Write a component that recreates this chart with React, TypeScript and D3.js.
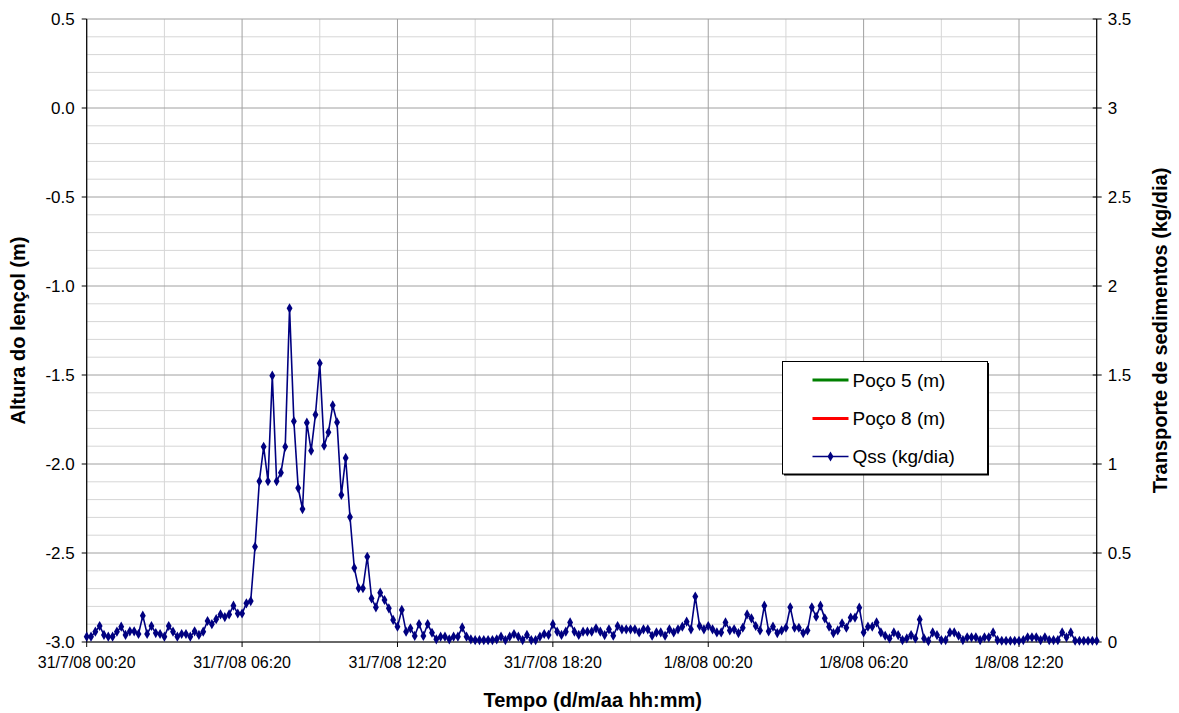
import React from "react";
import * as d3 from "d3";

// ---- Data ----
const startTime = new Date(2008, 6, 31, 0, 20);
const endTime = new Date(2008, 7, 1, 15, 20);
const stepMinutes = 10;

const leftTicks = [-3.0, -2.5, -2.0, -1.5, -1.0, -0.5, 0.0, 0.5];
const rightTicks = [0, 0.5, 1, 1.5, 2, 2.5, 3, 3.5];

const legendLabels = ["Poço 5 (m)", "Poço 8 (m)", "Qss (kg/dia)"];
const legendColors = ["#008000", "#ff0000", "#000080"];

// Qss (kg/dia), one reading every 10 minutes from 31/7/08 00:20
const qss: number[] = [
  0.03, 0.03, 0.058, 0.09, 0.04, 0.03, 0.03, 0.058, 0.086, 0.04,
  0.06, 0.06, 0.045, 0.148, 0.045, 0.09, 0.05, 0.045, 0.03, 0.09,
  0.058, 0.03, 0.045, 0.045, 0.03, 0.06, 0.04, 0.058, 0.118, 0.1,
  0.128, 0.155, 0.14, 0.155, 0.204, 0.16, 0.16, 0.217, 0.23,
  0.535, 0.903, 1.097, 0.903, 1.496, 0.903, 0.951, 1.097, 1.875, 1.24,
  0.865, 0.747, 1.232, 1.075, 1.277, 1.566, 1.103, 1.178, 1.33, 1.234,
  0.826, 1.034, 0.702, 0.416, 0.302, 0.302, 0.479, 0.245, 0.195, 0.277,
  0.236, 0.189, 0.124, 0.086,
  0.18, 0.058, 0.077, 0.034, 0.101, 0.034, 0.101, 0.052, 0.015, 0.03,
  0.03, 0.015, 0.03, 0.03, 0.082, 0.03, 0.015, 0.011, 0.011, 0.011,
  0.011, 0.011, 0.015, 0.03, 0.011, 0.03, 0.045, 0.03, 0.011, 0.04,
  0.011, 0.011, 0.03, 0.045, 0.04, 0.1, 0.058, 0.04, 0.058, 0.11,
  0.058, 0.04, 0.058,
  0.058, 0.058, 0.077, 0.058, 0.039, 0.071, 0.035, 0.09, 0.071, 0.071,
  0.071, 0.071, 0.054, 0.071, 0.071, 0.035, 0.054, 0.054, 0.035, 0.071,
  0.054, 0.071, 0.086, 0.114, 0.071, 0.255, 0.09, 0.071, 0.09, 0.071,
  0.054, 0.054, 0.11, 0.065, 0.071, 0.05, 0.08, 0.155, 0.133, 0.09,
  0.065, 0.204, 0.06, 0.086, 0.05, 0.065, 0.08, 0.195, 0.08, 0.08,
  0.05, 0.065, 0.195, 0.142, 0.204, 0.133, 0.086, 0.05, 0.065,
  0.105, 0.08, 0.137, 0.137, 0.193, 0.054, 0.086, 0.086, 0.11, 0.054,
  0.035, 0.02, 0.054, 0.039, 0.011, 0.02, 0.039, 0.02, 0.127, 0.02,
  0.005, 0.054, 0.039, 0.011, 0.011, 0.054, 0.054, 0.035, 0.011, 0.026,
  0.026, 0.026, 0.011, 0.026, 0.026, 0.054, 0.011, 0.007, 0.007, 0.007,
  0.007, 0.007, 0.011, 0.026, 0.026, 0.026, 0.011, 0.026, 0.011, 0.011,
  0.011, 0.054, 0.026, 0.054, 0.007, 0.007, 0.007, 0.007, 0.007, 0.007,
];

// ---- Layout ----
const W = 1179;
const H = 713;
const L = 86.7;
const R = 1096.7;
const T = 19;
const B = 642;
const FONT = "'Liberation Sans', Arial, sans-serif";

export default function App() {
  const x = d3.scaleTime().domain([startTime, endTime]).range([L, R]);
  const yL = d3.scaleLinear().domain([-3, 0.5]).range([B, T]);
  const yR = d3.scaleLinear().domain([0, 3.5]).range([B, T]);

  const points = qss.map((v, i) => ({
    t: d3.timeMinute.offset(startTime, i * stepMinutes),
    v,
  }));

  const line = d3
    .line<{ t: Date; v: number }>()
    .x((d) => x(d.t))
    .y((d) => yR(d.v));

  const minorY = d3
    .range(-30, 6)
    .map((k) => k / 10)
    .filter((v) => Math.abs(v * 2 - Math.round(v * 2)) > 1e-6);
  const majorY = leftTicks;
  const allTimes: Date[] = [];
  for (let h = 0; h <= 39; h += 3) allTimes.push(d3.timeHour.offset(startTime, h));
  const majorTimes = allTimes.filter((_, i) => i % 2 === 0);
  const minorTimes = allTimes.filter((_, i) => i % 2 === 1);

  const fmt = d3.timeFormat("%-d/%-m/%y %H:%M");
  const diamond = d3.symbol().type(d3.symbolDiamond).size(30)()!;

  const legX = 782.5;
  const legY = 361.5;
  const legW = 205;
  const legH = 112.5;
  const legRows = [380, 418.5, 456.5];

  return (
    <svg
      width={W}
      height={H}
      style={{ position: "absolute", left: 0, top: 0, background: "#fff" }}
      fontFamily={FONT}
    >
      <rect x={0} y={0} width={W} height={H} fill="#fff" />
      {/* minor grid */}
      {minorY.map((v) => (
        <line key={"mh" + v} x1={L} x2={R} y1={yL(v)} y2={yL(v)} stroke="#d6d6d6" strokeWidth={1} />
      ))}
      {minorTimes.map((d) => (
        <line key={"mv" + d.getTime()} x1={x(d)} x2={x(d)} y1={T} y2={B} stroke="#d6d6d6" strokeWidth={1} />
      ))}
      {/* major grid */}
      {majorY.map((v) => (
        <line key={"Mh" + v} x1={L} x2={R} y1={yL(v)} y2={yL(v)} stroke="#a0a0a0" strokeWidth={1} />
      ))}
      {majorTimes.map((d) => (
        <line key={"Mv" + d.getTime()} x1={x(d)} x2={x(d)} y1={T} y2={B} stroke="#a0a0a0" strokeWidth={1} />
      ))}
      {/* axes */}
      <line x1={L} x2={L} y1={T} y2={B} stroke="#000" strokeWidth={1.2} />
      <line x1={R} x2={R} y1={T} y2={B} stroke="#000" strokeWidth={1.2} />
      <line x1={L} x2={R} y1={B} y2={B} stroke="#000" strokeWidth={1.2} />
      {/* left ticks */}
      {leftTicks.map((v) => (
        <g key={"lt" + v}>
          <line x1={L - 5} x2={L} y1={yL(v)} y2={yL(v)} stroke="#000" />
          <text x={L - 12} y={yL(v)} dy="0.35em" textAnchor="end" fontSize={17}>
            {v.toFixed(1)}
          </text>
        </g>
      ))}
      {/* right ticks */}
      {rightTicks.map((v) => (
        <g key={"rt" + v}>
          <line x1={R - 4} x2={R + 5} y1={yR(v)} y2={yR(v)} stroke="#000" />
          <text x={R + 11} y={yR(v)} dy="0.35em" textAnchor="start" fontSize={17}>
            {String(v)}
          </text>
        </g>
      ))}
      {/* bottom ticks */}
      {majorTimes.map((d) => (
        <g key={"bt" + d.getTime()}>
          <line x1={x(d)} x2={x(d)} y1={B} y2={B + 5} stroke="#000" />
          <text x={x(d)} y={B + 26} textAnchor="middle" fontSize={16}>
            {fmt(d)}
          </text>
        </g>
      ))}
      {/* series */}
      <path d={line(points) || ""} fill="none" stroke="#000080" strokeWidth={1.6} />
      {points.map((p, i) => (
        <path key={"p" + i} d={diamond} transform={`translate(${x(p.t)},${yR(p.v)})`} fill="#000080" />
      ))}
      {/* titles */}
      <text x={(L + R) / 2 + 1} y={707} textAnchor="middle" fontSize={20} fontWeight="bold">
        Tempo (d/m/aa hh:mm)
      </text>
      <text
        transform={`translate(25,${(T + B) / 2}) rotate(-90)`}
        textAnchor="middle"
        fontSize={20}
        fontWeight="bold"
      >
        Altura do lençol (m)
      </text>
      <text
        transform={`translate(1167,${(T + B) / 2}) rotate(-90)`}
        textAnchor="middle"
        fontSize={20}
        fontWeight="bold"
      >
        Transporte de sedimentos (kg/dia)
      </text>
      {/* legend */}
      <rect x={legX + 1.5} y={legY + 1.5} width={legW} height={legH} fill="#000" />
      <rect x={legX} y={legY} width={legW} height={legH} fill="#fff" stroke="#000" strokeWidth={1} />
      {legendLabels.map((lab, i) => (
        <g key={"lg" + i}>
          <line
            x1={812.5}
            x2={848.5}
            y1={legRows[i]}
            y2={legRows[i]}
            stroke={legendColors[i]}
            strokeWidth={i < 2 ? 3 : 1.6}
          />
          {i === 2 && <path d={diamond} transform={`translate(830.5,${legRows[i]})`} fill="#000080" />}
          <text x={852.5} y={legRows[i]} dy="0.36em" fontSize={19}>
            {lab}
          </text>
        </g>
      ))}
    </svg>
  );
}
